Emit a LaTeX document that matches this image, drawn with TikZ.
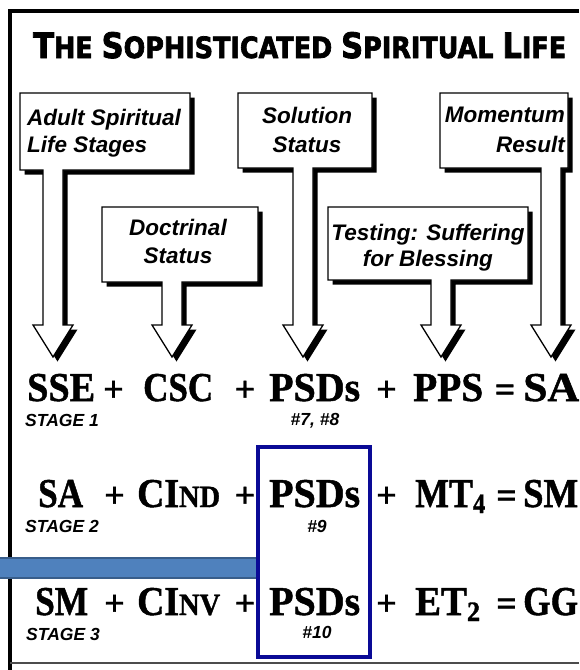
\documentclass[tikz,border=0pt]{standalone}
\usepackage{fontspec}
\usepackage{graphicx}
\newfontfamily\labfont{Liberation Sans}
\newfontfamily\titfont{DejaVu Sans}[BoldFeatures={FakeBold=2.5}]
\newfontfamily\eqfont{Liberation Serif}[BoldFeatures={FakeBold=1.2}]
\definecolor{navybox}{RGB}{10,10,150}
\definecolor{barfill}{RGB}{79,129,189}
\definecolor{barline}{RGB}{56,93,138}
\newcommand\eqw[2]{\resizebox{#1}{\height}{#2}}
\newcommand\calloutpath[5]{(#1,#2) -- (#3,#2) -- (#3,#4) -- (#5+10,#4) -- (#5+10,325) -- (#5+20,325) -- (#5,357) -- (#5-20,325) -- (#5-10,325) -- (#5-10,#4) -- (#1,#4) -- cycle}
\newcommand\callout[5]{%
  \fill[black,shift={(4.5,4.5)}] \calloutpath{#1}{#2}{#3}{#4}{#5};
  \filldraw[fill=white,draw=black,line width=1.3pt,line join=miter] \calloutpath{#1}{#2}{#3}{#4}{#5};}
\newcommand\sml[1]{{\fontsize{31}{31}\selectfont #1}}
\newcommand\tbig[1]{{\fontsize{36}{36}\selectfont #1}}
\begin{document}
\begin{tikzpicture}[x=1pt,y=-1pt,
  lab/.style={inner sep=0pt,font=\labfont\bfseries\itshape\fontsize{22.5}{27}\selectfont},
  stage/.style={inner sep=0pt,anchor=base west,font=\labfont\bfseries\itshape\fontsize{17.5}{20}\selectfont},
  num/.style={inner sep=0pt,anchor=base,font=\labfont\bfseries\itshape\fontsize{17.5}{20}\selectfont},
  eq/.style={inner sep=0pt,anchor=base west,font=\eqfont\bfseries\fontsize{41}{41}\selectfont},
  op/.style={inner sep=0pt,anchor=center,font=\eqfont\bfseries\fontsize{36}{36}\selectfont}]
\useasboundingbox (0,0) rectangle (579,670);
% frame
\draw[line width=4pt] (579,11) -- (10,11) -- (10,670);
\draw[line width=1.5pt,black!70] (10,663) -- (579,663);
% title
\node[inner sep=0pt,anchor=base west] (title) at (33,58) {\resizebox{533pt}{26pt}{\titfont\bfseries\fontsize{30}{30}\selectfont
  \tbig{T}HE \tbig{S}OPHISTICATED \tbig{S}PIRITUAL \tbig{L}IFE}};
% callouts
\callout{20}{93}{190}{170}{53}
\callout{238}{93}{372}{168}{303}
\callout{440}{93}{568}{168}{551}
\callout{102}{207}{258}{282}{172}
\callout{328}{207}{528}{280}{441}
\node[lab,anchor=base west] (c1a) at (27,125) {Adult Spiritual};
\node[lab,anchor=base west] (c1b) at (27,152) {Life Stages};
\node[lab,anchor=base] (c2a) at (307,123) {Solution};
\node[lab,anchor=base] (c2b) at (307,152) {Status};
\node[lab,anchor=base east] (c3a) at (565,122) {Momentum};
\node[lab,anchor=base east] (c3b) at (565,152) {Result};
\node[lab,anchor=base] (c4a) at (178,235) {Doctrinal};
\node[lab,anchor=base] (c4b) at (178,263) {Status};
\node[lab,anchor=base] (c5a) at (428,240) {Testing: Suffering};
\node[lab,anchor=base] (c5b) at (428,266) {for Blessing};
% row 1
\node[eq] (r1a) at (27,401) {\eqw{68pt}{SSE}};
\node[eq] (r1b) at (143,401) {\eqw{70pt}{CSC}};
\node[eq] (r1c) at (269,401) {\eqw{91pt}{PSDs}};
\node[eq] (r1d) at (413,401) {\eqw{70pt}{PPS}};
\node[eq] (r1e) at (523,401) {\eqw{56pt}{SA}};
\node[op] (p11) at (113.5,391) {+};
\node[op] (p12) at (245,391) {+};
\node[op] (p13) at (386.5,391) {+};
\node[op] (e1) at (505,393) {=};
\node[stage] (s1) at (25,426) {STAGE 1};
\node[num] (n1) at (315,425) {\#7, \#8};
% row 2
\node[eq] (r2a) at (38,507) {\eqw{45pt}{SA}};
\node[eq] (r2b) at (137,507) {\eqw{83pt}{CI\sml{ND}}};
\node[eq] (r2c) at (269,507) {\eqw{91pt}{PSDs}};
\node[eq] (r2d) at (415,507) {\eqw{70pt}{MT\raisebox{-6pt}{\fontsize{28}{28}\selectfont 4}}};
\node[eq] (r2e) at (523,507) {\eqw{55pt}{SM}};
\node[op] (p21) at (114.5,497) {+};
\node[op] (p22) at (245,497) {+};
\node[op] (p23) at (386.5,497) {+};
\node[op] (e2) at (506.5,499) {=};
\node[stage] (s2) at (25,532) {STAGE 2};
\node[num] (n2) at (317,532) {\#9};
% row 3
\node[eq] (r3a) at (35,615) {\eqw{53pt}{SM}};
\node[eq] (r3b) at (137,615) {\eqw{83pt}{CI\sml{NV}}};
\node[eq] (r3c) at (269,615) {\eqw{91pt}{PSDs}};
\node[eq] (r3d) at (415,615) {\eqw{65pt}{ET\raisebox{-6pt}{\fontsize{28}{28}\selectfont 2}}};
\node[eq] (r3e) at (523,615) {\eqw{55pt}{GG}};
\node[op] (p31) at (114.5,605) {+};
\node[op] (p32) at (245,605) {+};
\node[op] (p33) at (386.5,605) {+};
\node[op] (e3) at (506.5,607) {=};
\node[stage] (s3) at (26,640) {STAGE 3};
\node[num] (n3) at (317,638) {\#10};
% blue bar and box
\draw[fill=barfill,draw=barline,line width=2pt] (-2,558) rectangle (258,578);
\draw[navybox,line width=4pt] (258,447) rectangle (370,657);
\end{tikzpicture}
\end{document}
